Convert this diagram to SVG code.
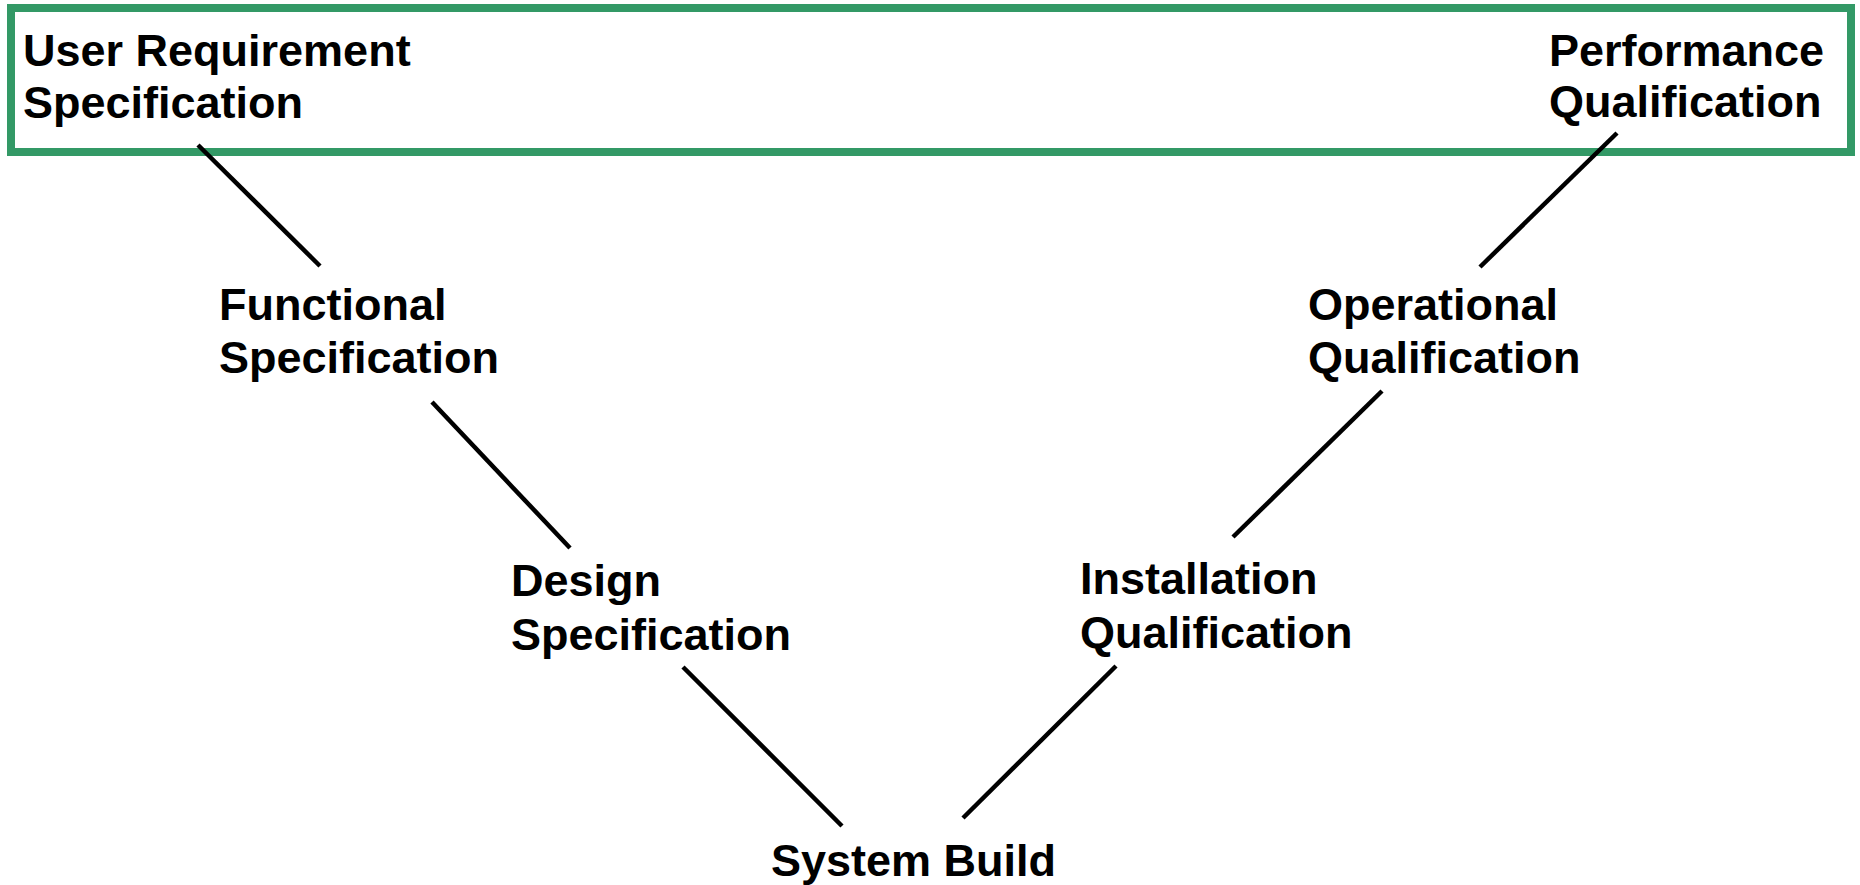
<svg xmlns="http://www.w3.org/2000/svg" width="1860" height="885" viewBox="0 0 1860 885">
  <style>
    .lbl { font-family: "Liberation Sans", Arial, sans-serif; font-weight: bold; font-size: 45px; fill: #000; }
    .link { stroke: #000; stroke-width: 4.5; fill: none; }
    .frame { fill: none; stroke: #339966; stroke-width: 8; }
  </style>
  <rect width="1860" height="885" fill="#fff"/>

  <!-- highlight band across the top row -->
  <rect class="frame" x="11" y="8" width="1840" height="144"/>

  <!-- V-model connectors -->
  <g id="connectors">
    <line class="link" x1="198" y1="145" x2="320" y2="266"/>
    <line class="link" x1="432" y1="402" x2="570" y2="548"/>
    <line class="link" x1="683" y1="667" x2="842" y2="826"/>
    <line class="link" x1="963" y1="818" x2="1116" y2="666"/>
    <line class="link" x1="1233" y1="537" x2="1382" y2="391"/>
    <line class="link" x1="1480" y1="267" x2="1617" y2="133"/>
  </g>

  <g id="urs">
    <text class="lbl" x="23" y="66">User Requirement</text>
    <text class="lbl" x="23" y="118">Specification</text>
  </g>
  <g id="fs">
    <text class="lbl" x="219" y="320">Functional</text>
    <text class="lbl" x="219" y="373">Specification</text>
  </g>
  <g id="ds">
    <text class="lbl" x="511" y="596">Design</text>
    <text class="lbl" x="511" y="650">Specification</text>
  </g>
  <g id="sb">
    <text class="lbl" x="771" y="876">System Build</text>
  </g>
  <g id="iq">
    <text class="lbl" x="1080" y="594">Installation</text>
    <text class="lbl" x="1080" y="648">Qualification</text>
  </g>
  <g id="oq">
    <text class="lbl" x="1308" y="320">Operational</text>
    <text class="lbl" x="1308" y="373">Qualification</text>
  </g>
  <g id="pq">
    <text class="lbl" x="1549" y="66">Performance</text>
    <text class="lbl" x="1549" y="117">Qualification</text>
  </g>
</svg>
